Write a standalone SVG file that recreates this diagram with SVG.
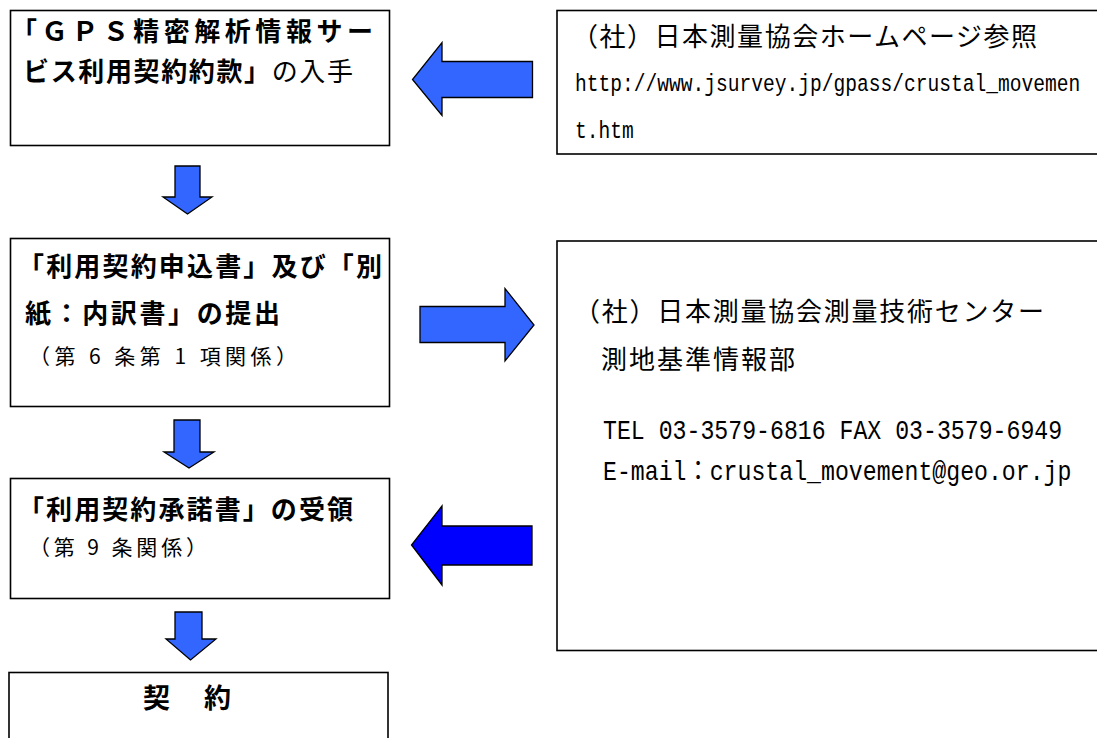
<svg xmlns="http://www.w3.org/2000/svg" width="1097" height="738" viewBox="0 0 1097 738">
<style>
.box{fill:#fff;stroke:#000;stroke-width:1.6}
.jp{font-family:"Noto Sans CJK JP","Noto Sans CJK SC",sans-serif;fill:#000}
.b{font-weight:700}
.n{font-weight:400}
.mono{font-family:"Liberation Mono","DejaVu Sans Mono","Noto Sans CJK JP",monospace;fill:#000}
.arr{fill:#3366FF;stroke:#000;stroke-width:1.3;stroke-linejoin:miter}
.arr2{fill:#0000FF;stroke:#000;stroke-width:1.3;stroke-linejoin:miter}
</style>
<rect width="1097" height="738" fill="#fff"/>
<g id="n1">
<rect class="box" x="10.5" y="10.5" width="379" height="135"/>
<text class="jp b" x="11" y="41" font-size="26" textLength="362" lengthAdjust="spacing">「ＧＰＳ精密解析情報サー</text>
<text class="jp" x="23" y="81" font-size="26" textLength="330" lengthAdjust="spacing"><tspan class="b">ビス利用契約約款」</tspan><tspan class="n">の入手</tspan></text>
</g>
<g id="n2">
<rect class="box" x="557" y="10.5" width="560" height="143.5"/>
<text class="jp n" x="572" y="46" font-size="26" textLength="465" lengthAdjust="spacing">（社）日本測量協会ホームページ参照</text>
<text class="mono" transform="translate(575,91) scale(1,1.2)" x="0" y="0" font-size="19.6">http://www.jsurvey.jp/gpass/crustal_movemen</text>
<text class="mono" transform="translate(575,137.5) scale(1,1.2)" x="0" y="0" font-size="19.6">t.htm</text>
</g>
<g id="n3">
<rect class="box" x="10.5" y="238.5" width="379" height="168"/>
<text class="jp b" x="18" y="276" font-size="26" textLength="364" lengthAdjust="spacing">「利用契約申込書」及び「別</text>
<text class="jp b" x="25" y="323" font-size="26" textLength="255" lengthAdjust="spacing">紙：内訳書」の提出</text>
<text class="jp n" x="29" y="364" font-size="21" textLength="268" lengthAdjust="spacing">（第 6 条第 1 項関係）</text>
</g>
<g id="n4">
<rect class="box" x="557" y="241" width="560" height="409.5"/>
<text class="jp n" x="574" y="321" font-size="26" textLength="470" lengthAdjust="spacing">（社）日本測量協会測量技術センター</text>
<text class="jp n" x="601" y="369" font-size="26" textLength="194" lengthAdjust="spacing">測地基準情報部</text>
<text class="mono" transform="translate(603,439) scale(1,1.17)" x="0" y="0" font-size="23.2">TEL 03-3579-6816 FAX 03-3579-6949</text>
<text class="mono" transform="translate(603,480) scale(1,1.17)" x="0" y="0" font-size="23.2">E-mail：crustal_movement@geo.or.jp</text>
</g>
<g id="n5">
<rect class="box" x="10.5" y="478.5" width="379" height="120"/>
<text class="jp b" x="18" y="519" font-size="26" textLength="335" lengthAdjust="spacing">「利用契約承諾書」の受領</text>
<text class="jp n" x="29" y="555" font-size="21" textLength="178" lengthAdjust="spacing">（第 9 条関係）</text>
</g>
<g id="n6">
<rect class="box" x="9" y="672.5" width="379" height="80"/>
<text class="jp b" x="143" y="708" font-size="27" textLength="88" lengthAdjust="spacing">契　約</text>
</g>
<g id="connectors">
<polygon class="arr" points="532.5,61.5 442,61.5 442,42.5 412.5,79.5 442,115.5 442,97.5 532.5,97.5"/>
<polygon class="arr" points="420,306.5 505,306.5 505,288.5 534,325 505,361 505,342.5 420,342.5"/>
<polygon class="arr2" points="532,526 442,526 442,506 411.5,545 442,585 442,565 532,565"/>
<polygon class="arr" points="175,166 200,166 200,197 212,197 187.5,214 163,197 175,197"/>
<polygon class="arr" points="174,420 200,420 200,452 214,452 189,468 164,452 174,452"/>
<polygon class="arr" points="175,612 202,612 202,639 216,639 190.5,660 166,639 175,639"/>
</g>
</svg>
